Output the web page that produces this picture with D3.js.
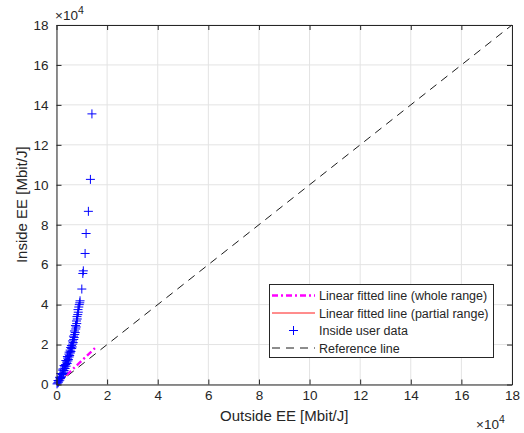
<!DOCTYPE html>
<html><head><meta charset="utf-8">
<script src="https://cdn.jsdelivr.net/npm/d3@7"></script>
<style>body{margin:0;background:#fff}svg{display:block}text{font-family:"Liberation Sans",Arial,sans-serif;fill:#262626}</style>
</head><body><svg id="c" width="524" height="433"></svg>
<script>
// data (units of 1e4 Mbit/J)
const xTicks = [0,2,4,6,8,10,12,14,16,18];
const yTicks = [0,2,4,6,8,10,12,14,16,18];
const insideX = [0.02,0.05,0.08,0.10,0.13,0.15,0.18,0.20,0.22,0.25,0.28,0.30,0.26,0.34,0.32,0.38,0.36,0.42,0.40,0.45,0.47,0.44,0.50,0.52,0.49,0.55,0.57,0.54,0.60,0.62,0.59,0.64,0.66,0.63,0.68,0.70,0.67,0.72,0.74,0.71,0.76,0.78,0.75,0.80,0.79,0.82,0.81,0.84,0.86,0.85,0.88,0.90,0.92,0.93,1.00,1.04,1.06,1.13,1.17,1.26,1.34,1.40,0.06,0.12,0.17,0.24,0.30,0.37,0.43,0.50,0.56];
const insideY = [0.03,0.08,0.12,0.18,0.22,0.30,0.35,0.42,0.50,0.55,0.62,0.70,0.78,0.80,0.88,0.92,1.00,1.05,1.12,1.18,1.25,1.32,1.38,1.45,1.52,1.58,1.65,1.72,1.80,1.88,1.95,2.02,2.10,2.18,2.25,2.35,2.42,2.50,2.60,2.68,2.78,2.88,2.95,3.05,3.18,3.28,3.40,3.50,3.62,3.75,3.88,4.00,4.09,4.19,4.78,5.56,5.69,6.56,7.56,8.67,10.27,13.55,0.20,0.36,0.55,0.72,0.95,1.20,1.40,1.62,1.85];
const fitWholeX = [0, 1.52];
const fitWholeY = [0, 1.82];
const fitPartX = [0, 0.5];
const fitPartY = [0, 0.58];
const refX = [0, 18];
const refY = [0, 18];
const legendLabels = ["Linear fitted line (whole range)","Linear fitted line (partial range)","Inside user data","Reference line"];

const svg = d3.select("#c");
const L=56.5, R=512, T=25, B=384.5;
const x = d3.scaleLinear().domain([0,18]).range([L,R]);
const y = d3.scaleLinear().domain([0,18]).range([B,T]);
const axc = "#262626";

// grid
const g = svg.append("g");
g.selectAll(".gx").data(xTicks).join("line").attr("x1",d=>x(d)).attr("x2",d=>x(d)).attr("y1",T).attr("y2",B).attr("stroke","#e3e3e3").attr("stroke-width",1);
g.selectAll(".gy").data(yTicks).join("line").attr("y1",d=>y(d)).attr("y2",d=>y(d)).attr("x1",L).attr("x2",R).attr("stroke","#e3e3e3").attr("stroke-width",1);

// reference line
const line = d3.line().x(d=>x(d[0])).y(d=>y(d[1]));
svg.append("path").attr("d",line(refX.map((v,i)=>[v,refY[i]]))).attr("fill","none").attr("stroke","#000").attr("stroke-width",0.9).attr("stroke-dasharray","8,6");
// fitted lines
svg.append("path").attr("d",line(fitPartX.map((v,i)=>[v,fitPartY[i]]))).attr("fill","none").attr("stroke","#ff0000").attr("stroke-width",0.9);
svg.append("path").attr("d",line(fitWholeX.map((v,i)=>[v,fitWholeY[i]]))).attr("fill","none").attr("stroke","#ff00ff").attr("stroke-width",2.4).attr("stroke-dasharray","6,3,2,3");

// markers
const ms=4.5;
svg.append("g").selectAll("path").data(insideX.map((v,i)=>[v,insideY[i]])).join("path")
  .attr("d",d=>`M${x(d[0])-ms},${y(d[1])}H${x(d[0])+ms}M${x(d[0])},${y(d[1])-ms}V${y(d[1])+ms}`)
  .attr("stroke","#0000ff").attr("stroke-width",1).attr("fill","none");

// axes
const xa = svg.append("g").attr("transform",`translate(0,${B})`).call(d3.axisBottom(x).tickValues(xTicks).tickSizeInner(-5).tickSizeOuter(0).tickPadding(6));
const xt = svg.append("g").attr("transform",`translate(0,${T})`).call(d3.axisTop(x).tickValues(xTicks).tickSizeInner(-5).tickSizeOuter(0).tickFormat(""));
const ya = svg.append("g").attr("transform",`translate(${L},0)`).call(d3.axisLeft(y).tickValues(yTicks).tickSizeInner(-5).tickSizeOuter(0).tickPadding(8));
const yr = svg.append("g").attr("transform",`translate(${R},0)`).call(d3.axisRight(y).tickValues(yTicks).tickSizeInner(-5).tickSizeOuter(0).tickFormat(""));
[xa,xt,ya,yr].forEach(a=>{a.selectAll("path").attr("stroke",axc).attr("stroke-width",1);a.selectAll("line").attr("stroke",axc);a.selectAll("text").attr("font-size",13.5).attr("fill",axc).attr("font-family","Liberation Sans, Arial, sans-serif");});

// axis labels
svg.append("text").attr("x",(L+R)/2).attr("y",421).attr("text-anchor","middle").attr("font-size",15).text("Outside EE [Mbit/J]");
svg.append("text").attr("transform",`translate(27,${(T+B)/2}) rotate(-90)`).attr("text-anchor","middle").attr("font-size",15).text("Inside EE [Mbit/J]");

// exponents
function expo(xp,yp){
  const t=svg.append("text").attr("x",xp).attr("y",yp).attr("font-size",13.5);
  t.append("tspan").text("\u00d710");
  t.append("tspan").attr("dy",-6).attr("font-size",10.5).text("4");
}
expo(55,20);
expo(476,429);

// legend
const lg = svg.append("g");
lg.append("rect").attr("x",269.5).attr("y",284.5).attr("width",224).attr("height",73).attr("fill","#fff").attr("stroke",axc).attr("stroke-width",1);
const rowY=[295.5,313,330.5,348];
lg.selectAll("text").data(legendLabels).join("text").attr("x",319).attr("y",(d,i)=>rowY[i]+4.5).attr("font-size",12.5).attr("fill","#000").text(d=>d);
lg.append("line").attr("x1",272).attr("x2",315).attr("y1",rowY[0]).attr("y2",rowY[0]).attr("stroke","#ff00ff").attr("stroke-width",2.4).attr("stroke-dasharray","6,3,2,3");
lg.append("line").attr("x1",272).attr("x2",315).attr("y1",rowY[1]).attr("y2",rowY[1]).attr("stroke","#ff0000").attr("stroke-width",0.9);
lg.append("path").attr("d",`M${293.5-ms},${rowY[2]}H${293.5+ms}M293.5,${rowY[2]-ms}V${rowY[2]+ms}`).attr("stroke","#0000ff").attr("stroke-width",1);
lg.append("line").attr("x1",272).attr("x2",315).attr("y1",rowY[3]).attr("y2",rowY[3]).attr("stroke","#000").attr("stroke-width",0.9).attr("stroke-dasharray","8,6");
</script></body></html>
